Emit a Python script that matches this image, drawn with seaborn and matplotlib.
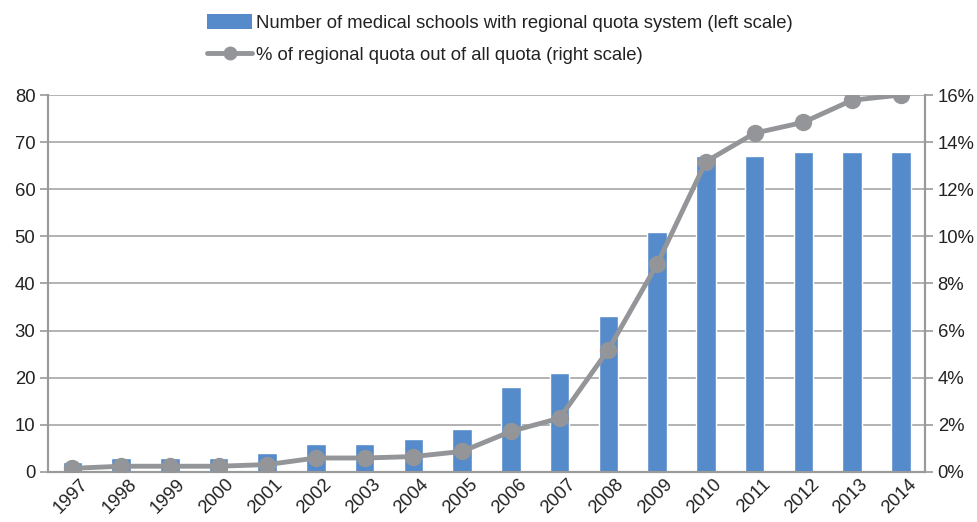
import numpy as np
import pandas as pd
import matplotlib
matplotlib.use("Agg")
import matplotlib.pyplot as plt
import matplotlib.transforms as mtransforms
import seaborn as sns
from matplotlib.lines import Line2D
from matplotlib.patches import Patch
from matplotlib.ticker import FuncFormatter, MultipleLocator

years = [str(y) for y in range(1997, 2015)]
schools = [2, 3, 3, 3, 4, 6, 6, 7, 9, 18, 21, 33, 51, 67, 67, 68, 68, 68]
quota_pct = [0.15, 0.24, 0.24, 0.24, 0.31, 0.59, 0.59, 0.65, 0.87, 1.72, 2.28,
             5.19, 8.82, 13.17, 14.38, 14.84, 15.78, 16.0]

bar_label = "Number of medical schools with regional quota system (left scale)"
line_label = "% of regional quota out of all quota (right scale)"

sns.set_theme(style="white")
plt.rcParams["font.family"] = ["Liberation Sans", "DejaVu Sans"]

BLUE = "#558BCB"
GRAY = "#939598"
AXIS = "#9A9A9A"
TEXT = "#222222"
FS = 13.3

df = pd.DataFrame({"year": years, "schools": schools, "pct": quota_pct})
df["pos"] = np.arange(len(df))

fig = plt.figure(figsize=(9.78, 5.22), dpi=100)
ax = fig.add_axes([0.049, 0.096, 0.897, 0.722])

sns.barplot(data=df, x="year", y="schools", color=BLUE, width=0.4,
            saturation=1, ax=ax, zorder=2)
ax.set_xlim(-0.5, len(df) - 0.5)
ax.set_ylim(0, 80)
ax.yaxis.set_major_locator(MultipleLocator(10))
ax.grid(axis="y", color="#A6A6A6", linewidth=1.2, zorder=0)
ax.set_axisbelow(True)
ax.set_xlabel("")
ax.set_ylabel("")

ax2 = ax.twinx()
sns.lineplot(data=df, x="pos", y="pct", color=GRAY, linewidth=3.5,
             marker="o", markersize=12.5, markeredgewidth=0, ax=ax2, zorder=3)
ax2.set_ylim(0, 16)
ax2.set_xlim(-0.5, len(df) - 0.5)
ax2.yaxis.set_major_locator(MultipleLocator(2))
ax2.yaxis.set_major_formatter(FuncFormatter(lambda v, p: f"{v:.0f}%"))
ax2.set_ylabel("")
ax2.set_xlabel("")

# category boundary ticks on x, labels at bar centres
ax.set_xticks(np.arange(len(df)))
ax.set_xticklabels(years, rotation=45, ha="right", rotation_mode="anchor",
                   fontsize=FS, color=TEXT)
ax.tick_params(axis="x", length=0, pad=3)
shift = mtransforms.ScaledTranslation(7 / 100, 0, fig.dpi_scale_trans)
for lbl in ax.get_xticklabels():
    lbl.set_transform(lbl.get_transform() + shift)
ax.set_xticks(np.arange(-0.5, len(df)), minor=True)
ax.tick_params(axis="x", which="minor", length=6, width=1.2, color=AXIS)

ax.tick_params(axis="y", length=6, width=1.2, color=AXIS, labelsize=FS,
               labelcolor=TEXT, left=True, pad=3)
ax2.tick_params(axis="y", length=6, width=1.2, color=AXIS, labelsize=FS,
                labelcolor=TEXT, right=True, pad=3)

for a in (ax, ax2):
    a.spines["top"].set_visible(False)
    for s in ("left", "right", "bottom"):
        a.spines[s].set_color(AXIS)
        a.spines[s].set_linewidth(1.5)

handles = [
    Patch(facecolor=BLUE, edgecolor="none", label=bar_label),
    Line2D([0], [0], color=GRAY, linewidth=3.5, marker="o", markersize=9,
           label=line_label),
]
fig.legend(handles=handles, loc="upper left", bbox_to_anchor=(0.195, 1.005),
           frameon=False, fontsize=FS, handlelength=2.4, handleheight=0.85,
           handletextpad=0.25, labelspacing=0.8, labelcolor=TEXT)

fig.savefig("out.png", dpi=100)
